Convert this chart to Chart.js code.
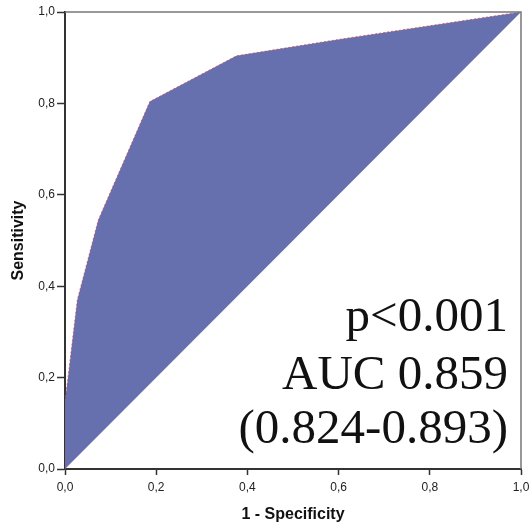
<!DOCTYPE html>
<html>
<head>
<meta charset="utf-8">
<script src="https://cdn.jsdelivr.net/npm/chart.js@4/dist/chart.umd.min.js"></script>
<style>
  html, body { margin: 0; padding: 0; background: #fff; }
  #wrap { width: 532px; height: 528px; }
</style>
</head>
<body>
<div id="wrap"><canvas id="roc"></canvas></div>
<script>
"use strict";

/* ROC curve */
var rocX = [0.0, 0.0, 0.006, 0.027, 0.073, 0.186, 0.376, 0.60, 1.0];
var rocY = [0.0, 0.15, 0.195, 0.37, 0.545, 0.804, 0.904, 0.94, 1.0];
/* reference line */
var diagX = [0.0, 1.0];
var diagY = [0.0, 1.0];
/* tick labels */
var tickValues = [0.0, 0.2, 0.4, 0.6, 0.8, 1.0];
var tickLabels = ['0,0', '0,2', '0,4', '0,6', '0,8', '1,0'];
/* annotation */
var noteLines = ['p<0.001', 'AUC 0.859', '(0.824-0.893)'];

function toPoints(xs, ys) {
    return xs.map(function (x, i) { return { x: x, y: ys[i] }; });
}

function tickText(value) {
    for (var i = 0; i < tickValues.length; i++) {
        if (Math.abs(tickValues[i] - value) < 1e-6) return tickLabels[i];
    }
    return '';
}

/* frame on top and right, plus the text block */
var framePlugin = {
    id: 'frame',
    afterDatasetsDraw: function (chart) {
        var ctx = chart.ctx, a = chart.chartArea;
        ctx.save();
        ctx.strokeStyle = '#777777';
        ctx.lineWidth = 1.5;
        ctx.beginPath();
        ctx.moveTo(a.left, a.top);
        ctx.lineTo(a.right, a.top);
        ctx.lineTo(a.right, a.bottom);
        ctx.stroke();

        ctx.fillStyle = '#111111';
        ctx.font = '49px "Liberation Serif", "Times New Roman", serif';
        ctx.textAlign = 'right';
        ctx.textBaseline = 'alphabetic';
        var baselines = [331, 389, 443];
        noteLines.forEach(function (t, i) {
            ctx.fillText(t, a.right - 13, baselines[i]);
        });
        ctx.restore();
    }
};

var tickFont = { family: '"Liberation Sans", Arial, sans-serif', size: 12 };
var titleFont = { family: '"Liberation Sans", Arial, sans-serif', size: 16, weight: 'bold' };

var rocCtx = document.getElementById('roc').getContext('2d');

var rocConfig = {
    type: 'scatter',
    data: {
        datasets: [{
            label: 'ROC',
            data: toPoints(rocX, rocY),
            showLine: true,
            tension: 0,
            pointRadius: 0,
            borderColor: 'rgba(210, 70, 70, 0.75)',
            borderWidth: 1,
            borderDash: [2, 2],
            backgroundColor: '#6770ae',
            fill: 1
        },
        {
            label: 'Reference',
            data: toPoints(diagX, diagY),
            showLine: true,
            tension: 0,
            pointRadius: 0,
            borderWidth: 0,
            borderColor: 'rgba(0,0,0,0)',
            fill: false
        }]
    },
    options: {
        animation: false,
        responsive: true,
        maintainAspectRatio: false,
        layout: {
            padding: { left: 0, right: 11, top: 12, bottom: 0 }
        },
        plugins: {
            legend: { display: false },
            tooltip: { enabled: false }
        },
        scales: {
            x: {
                type: 'linear',
                min: 0,
                max: 1,
                afterFit: function (scale) {
                    scale.height = 59;
                    scale.paddingRight = 0;
                    scale.paddingLeft = 0;
                },
                afterBuildTicks: function (scale) {
                    scale.ticks = tickValues.map(function (v) { return { value: v }; });
                },
                ticks: {
                    callback: tickText,
                    color: '#222222',
                    font: tickFont,
                    padding: 5,
                    maxRotation: 0
                },
                grid: {
                    display: true,
                    drawOnChartArea: false,
                    drawTicks: true,
                    tickLength: 6,
                    tickColor: '#333333',
                    tickWidth: 1.5
                },
                border: { display: true, color: '#333333', width: 2 },
                title: {
                    display: true,
                    text: '1 - Specificity',
                    color: '#111111',
                    font: titleFont,
                    padding: { top: 0, bottom: 4 }
                }
            },
            y: {
                type: 'linear',
                min: 0,
                max: 1,
                afterFit: function (scale) {
                    scale.width = 65;
                    scale.paddingTop = 0;
                    scale.paddingBottom = 0;
                },
                afterBuildTicks: function (scale) {
                    scale.ticks = tickValues.map(function (v) { return { value: v }; });
                },
                ticks: {
                    callback: tickText,
                    color: '#222222',
                    font: tickFont,
                    padding: 2
                },
                grid: {
                    display: true,
                    drawOnChartArea: false,
                    drawTicks: true,
                    tickLength: 8,
                    tickColor: '#333333',
                    tickWidth: 1.5
                },
                border: { display: true, color: '#333333', width: 2 },
                title: {
                    display: true,
                    text: 'Sensitivity',
                    color: '#111111',
                    font: titleFont,
                    padding: { top: 9, bottom: 0 }
                }
            }
        }
    },
    plugins: [framePlugin]
};

var rocChart = new Chart(rocCtx, rocConfig);
</script>
</body>
</html>
